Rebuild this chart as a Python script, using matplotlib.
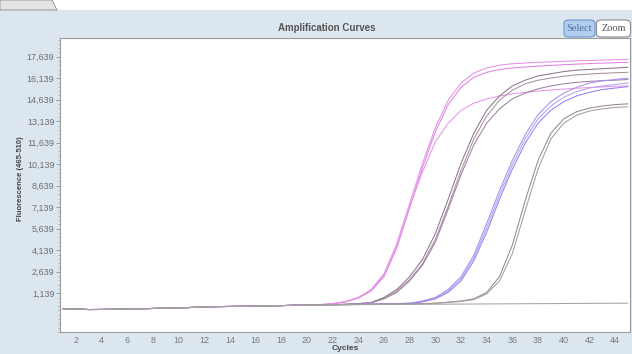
import matplotlib
matplotlib.use('Agg')
import matplotlib.pyplot as plt
from matplotlib.patches import FancyBboxPatch, Rectangle, Polygon
from matplotlib.ticker import FixedLocator, AutoMinorLocator

#=========================#
#  data                   #
#=========================#
cycles = list(range(1, 46))

# cycles 1-20 (common baseline before any amplification)
base_early = [60, 40, 5, 10, 30, 50, 60, 80, 100, 120,
              150, 190, 210, 220, 230, 250, 260, 280, 300, 320]

# cycles 21-45 for each well
pink_1 = [350, 420, 560, 850, 1400, 2500, 4600, 7400, 10200, 12700,
          14600, 15800, 16500, 16850, 17050, 17150, 17200, 17250, 17280, 17320,
          17350, 17380, 17400, 17430, 17450]
pink_2 = [340, 410, 540, 800, 1300, 2300, 4300, 7100, 9900, 12400,
          14300, 15500, 16200, 16550, 16750, 16850, 16920, 16980, 17030, 17080,
          17120, 17160, 17190, 17220, 17250]
pink_3 = [340, 410, 550, 830, 1350, 2400, 4400, 7200, 9600, 11700,
          13000, 13900, 14400, 14700, 14900, 15050, 15150, 15250, 15320, 15380,
          15440, 15490, 15530, 15570, 15600]
plum_1 = [330, 350, 380, 420, 500, 850, 1400, 2300, 3500, 5300,
          7700, 10200, 12300, 13900, 14900, 15600, 16000, 16300, 16450, 16600,
          16700, 16750, 16800, 16850, 16900]
plum_2 = [330, 345, 370, 410, 480, 800, 1300, 2100, 3200, 4900,
          7200, 9700, 11900, 13500, 14600, 15300, 15750, 16000, 16150, 16280,
          16370, 16430, 16480, 16520, 16550]
plum_3 = [330, 345, 365, 400, 470, 750, 1200, 2000, 3100, 4700,
          7000, 9400, 11500, 13000, 14000, 14700, 15100, 15400, 15600, 15750,
          15850, 15920, 15970, 16000, 16050]
violet_1 = [330, 340, 350, 360, 380, 400, 420, 450, 600, 850,
            1400, 2300, 3800, 6000, 8300, 10400, 12200, 13600, 14500, 15100,
            15500, 15800, 15950, 16050, 16150]
violet_2 = [330, 340, 350, 360, 375, 395, 415, 440, 560, 800,
            1300, 2150, 3600, 5700, 8000, 10100, 11900, 13300, 14200, 14800,
            15200, 15450, 15600, 15700, 15800]
violet_3 = [330, 340, 350, 360, 370, 390, 410, 430, 540, 750,
            1200, 2000, 3400, 5400, 7700, 9800, 11600, 13000, 13900, 14500,
            14900, 15150, 15350, 15450, 15550]
gray_1 = [330, 340, 350, 360, 370, 380, 390, 400, 420, 450,
          520, 600, 750, 1200, 2300, 4500, 7600, 10400, 12300, 13300,
          13800, 14050, 14200, 14300, 14350]
gray_2 = [330, 340, 350, 355, 365, 375, 385, 395, 410, 440,
          500, 570, 700, 1100, 2000, 3900, 6900, 9800, 11900, 13000,
          13550, 13850, 14000, 14100, 14150]
flat = [330, 335, 340, 345, 350, 355, 360, 365, 370, 375,
        380, 385, 390, 395, 400, 405, 410, 415, 420, 425,
        430, 435, 440, 445, 450]

wells = [pink_1, pink_2, pink_3, plum_1, plum_2, plum_3,
         violet_1, violet_2, violet_3, gray_1, gray_2, flat]
well_colors = ['#e68ee9', '#e083e4', '#e795ea', '#8f7690', '#a7929f', '#9a82a0',
               '#a690f0', '#b3a0f3', '#9880ea', '#948a8a', '#a89c9c', '#aaa3a3']

y_ticks = [1139, 2639, 4139, 5639, 7139, 8639, 10139, 11639, 13139, 14639, 16139, 17639]
x_ticks = list(range(2, 45, 2))

#=========================#
#  figure                 #
#=========================#
fig = plt.figure(figsize=(6.32, 3.54), dpi=100)
fig.patch.set_facecolor('white')

# blue panel behind everything
fig.patches.append(Rectangle((0, 0), 1, 1 - 10/354, transform=fig.transFigure,
                             facecolor='#dce6ef', edgecolor='none', zorder=0))
# small tab at top left
fig.patches.append(Polygon([(0, 1), (52/632, 1), (57/632, 1 - 10/354), (0, 1 - 10/354)],
                           closed=True, transform=fig.transFigure,
                           facecolor='#e4e4e4', edgecolor='#8a8a8a', lw=0.6, zorder=1))

ax = fig.add_axes([60/632, 22/354, 570/632, 294/354])
ax.set_zorder(2)
ax.set_facecolor('white')

for vals, col in zip(wells, well_colors):
    ax.plot(cycles, base_early + vals, color=col, lw=0.75, solid_joinstyle='round')

ax.set_xlim(0.75, 45.17)
ax.set_ylim(-1562, 18944)

ax.yaxis.set_major_locator(FixedLocator(y_ticks))
ax.set_yticklabels(['{:,}'.format(v) for v in y_ticks])
ax.yaxis.set_minor_locator(AutoMinorLocator(5))
ax.set_xticks(x_ticks)

narrow = ['Liberation Sans Narrow', 'Liberation Sans']
ax.tick_params(axis='y', which='major', length=3, width=0.6, color='#8a8a8a',
               labelsize=6.5, labelcolor='#6e6e6e', pad=1)
ax.tick_params(axis='y', which='minor', length=1.5, width=0.5, color='#9a9a9a')
ax.tick_params(axis='x', length=0, labelsize=6.5, labelcolor='#7a7a7a', pad=3)
for lab in ax.get_xticklabels() + ax.get_yticklabels():
    lab.set_family(narrow)

for sp in ax.spines.values():
    sp.set_color('#9c9c9c')
    sp.set_linewidth(0.8)

ax.set_xlabel('Cycles', fontsize=6, fontweight='bold', color='#444444',
              family='Liberation Sans', labelpad=0)
ax.set_ylabel('Fluorescence (465-510)', fontsize=5.5, fontweight='bold', color='#444444',
              family=narrow)
ax.yaxis.set_label_coords(-0.064, 0.52)

fig.text(327/632, 1 - 28/354, 'Amplification Curves', ha='center', va='center',
         fontsize=7, fontweight='bold', color='#555555', family='Liberation Sans')

# Select / Zoom buttons
fig.patches.append(FancyBboxPatch((564/632, 1 - 37/354), 31/632, 17/354,
                                  boxstyle='round,pad=0,rounding_size=0.009',
                                  transform=fig.transFigure, facecolor='#b3cdee',
                                  edgecolor='#6f98cf', lw=0.8, zorder=2))
fig.patches.append(FancyBboxPatch((596.5/632, 1 - 37/354), 34/632, 17/354,
                                  boxstyle='round,pad=0,rounding_size=0.009',
                                  transform=fig.transFigure, facecolor='white',
                                  edgecolor='#8c8c8c', lw=0.8, zorder=2))
fig.text(579.5/632, 1 - 28.5/354, 'Select', ha='center', va='center', fontsize=7.5,
         color='#4d6fa0', family='Liberation Serif', zorder=3)
fig.text(613.5/632, 1 - 28.5/354, 'Zoom', ha='center', va='center', fontsize=7.5,
         color='#555555', family='Liberation Serif', zorder=3)

fig.savefig('out.png', dpi=100, facecolor=fig.get_facecolor())
